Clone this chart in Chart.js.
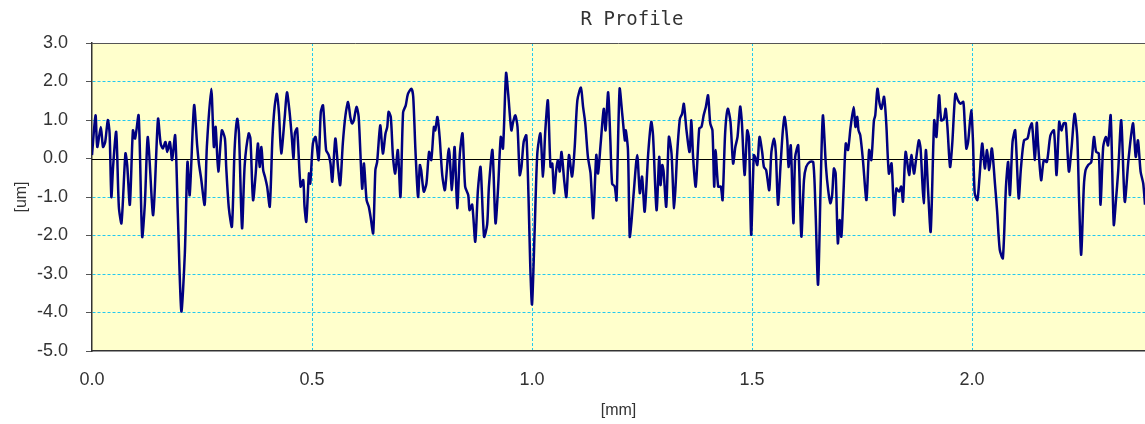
<!DOCTYPE html>
<html>
<head>
<meta charset="utf-8">
<script src="https://cdn.jsdelivr.net/npm/chart.js@4/dist/chart.umd.min.js"></script>
<style>
  html, body { margin: 0; padding: 0; background: #fff; }
  #wrap { width: 1145px; height: 424px; }
</style>
</head>
<body>
<div id="wrap"><canvas id="profile"></canvas></div>
<script>
// R profile, position along the trace [mm] and height [um]
const positionMm = [
  0.000, 0.008, 0.012, 0.020, 0.025, 0.030, 0.036, 0.040, 0.044, 0.048,
  0.055, 0.061, 0.067, 0.076, 0.080, 0.086, 0.093, 0.098, 0.106, 0.114,
  0.120, 0.127, 0.139, 0.150, 0.156, 0.161, 0.167, 0.171, 0.177, 0.182,
  0.189, 0.195, 0.203, 0.211, 0.217, 0.222, 0.232, 0.239, 0.243, 0.248,
  0.256, 0.261, 0.271, 0.277, 0.281, 0.287, 0.295, 0.302, 0.305, 0.311,
  0.318, 0.324, 0.330, 0.334, 0.341, 0.347, 0.356, 0.360, 0.366, 0.372,
  0.377, 0.381, 0.385, 0.389, 0.393, 0.398, 0.404, 0.410, 0.415, 0.420,
  0.425, 0.430, 0.438, 0.443, 0.449, 0.454, 0.458, 0.461, 0.466, 0.474,
  0.480, 0.483, 0.487, 0.493, 0.496, 0.502, 0.508, 0.515, 0.520, 0.525,
  0.532, 0.538, 0.542, 0.546, 0.553, 0.559, 0.564, 0.570, 0.576, 0.582,
  0.587, 0.591, 0.595, 0.601, 0.606, 0.614, 0.618, 0.624, 0.629, 0.633,
  0.639, 0.644, 0.648, 0.655, 0.661, 0.667, 0.671, 0.674, 0.679, 0.684,
  0.689, 0.695, 0.701, 0.707, 0.713, 0.718, 0.726, 0.730, 0.735, 0.741,
  0.745, 0.748, 0.754, 0.760, 0.766, 0.771, 0.777, 0.780, 0.785, 0.790,
  0.796, 0.802, 0.811, 0.818, 0.824, 0.830, 0.836, 0.842, 0.848, 0.855,
  0.858, 0.864, 0.871, 0.877, 0.883, 0.891, 0.898, 0.902, 0.910, 0.917,
  0.923, 0.929, 0.934, 0.941, 0.946, 0.953, 0.957, 0.962, 0.967, 0.972,
  0.976, 0.981, 0.987, 0.992, 0.996, 1.000, 1.006, 1.012, 1.019, 1.025,
  1.030, 1.036, 1.042, 1.046, 1.050, 1.055, 1.059, 1.063, 1.067, 1.073,
  1.078, 1.084, 1.091, 1.097, 1.103, 1.111, 1.116, 1.121, 1.127, 1.133,
  1.139, 1.146, 1.150, 1.156, 1.163, 1.167, 1.173, 1.178, 1.182, 1.188,
  1.192, 1.199, 1.205, 1.211, 1.213, 1.218, 1.222, 1.226, 1.231, 1.239,
  1.245, 1.250, 1.256, 1.264, 1.271, 1.275, 1.283, 1.289, 1.292, 1.296,
  1.299, 1.305, 1.311, 1.317, 1.323, 1.330, 1.336, 1.341, 1.345, 1.351,
  1.358, 1.362, 1.366, 1.372, 1.380, 1.385, 1.390, 1.395, 1.400, 1.405,
  1.410, 1.414, 1.417, 1.423, 1.429, 1.433, 1.439, 1.445, 1.451, 1.457,
  1.462, 1.467, 1.473, 1.477, 1.483, 1.489, 1.493, 1.498, 1.504, 1.507,
  1.512, 1.517, 1.523, 1.527, 1.532, 1.539, 1.544, 1.550, 1.554, 1.559,
  1.565, 1.570, 1.574, 1.580, 1.583, 1.588, 1.594, 1.598, 1.605, 1.612,
  1.618, 1.623, 1.631, 1.639, 1.644, 1.650, 1.656, 1.661, 1.668, 1.673,
  1.678, 1.682, 1.686, 1.690, 1.695, 1.699, 1.703, 1.708, 1.713, 1.718,
  1.724, 1.731, 1.735, 1.739, 1.742, 1.746, 1.752, 1.760, 1.766, 1.771,
  1.777, 1.780, 1.785, 1.790, 1.794, 1.800, 1.805, 1.811, 1.817, 1.823,
  1.828, 1.834, 1.839, 1.843, 1.849, 1.857, 1.862, 1.868, 1.872, 1.879,
  1.883, 1.890, 1.895, 1.900, 1.906, 1.914, 1.919, 1.925, 1.930, 1.936,
  1.940, 1.944, 1.950, 1.955, 1.962, 1.968, 1.974, 1.980, 1.983, 1.987,
  1.991, 1.998, 2.002, 2.006, 2.012, 2.017, 2.023, 2.029, 2.034, 2.039,
  2.045, 2.052, 2.057, 2.063, 2.070, 2.077, 2.082, 2.086, 2.092, 2.098,
  2.106, 2.111, 2.118, 2.126, 2.131, 2.136, 2.143, 2.147, 2.150, 2.157,
  2.163, 2.170, 2.178, 2.186, 2.192, 2.198, 2.203, 2.208, 2.213, 2.220,
  2.226, 2.233, 2.239, 2.243, 2.248, 2.254, 2.258, 2.264, 2.271, 2.277,
  2.282, 2.288, 2.292, 2.298, 2.304, 2.309, 2.315, 2.322, 2.327, 2.332,
  2.339, 2.347, 2.355, 2.361, 2.366, 2.372, 2.377, 2.383, 2.389, 2.393
];
const heightUm = [
  0.09, 1.12, 0.30, 0.82, 0.30, 0.43, 1.00, 0.65, -1.00, -0.20,
  0.69, -1.25, -1.68, 0.13, -0.17, -1.20, 0.73, 0.52, 1.12, -2.03,
  -1.20, 0.56, -1.47, 1.03, 0.39, 0.26, 0.43, 0.17, 0.43, -0.04,
  0.60, -1.42, -3.97, -2.46, -0.09, -0.95, 1.38, 0.34, -0.13, -0.52,
  -1.20, 0.30, 1.81, 0.30, 0.82, -0.34, 0.73, 0.52, -0.22, -1.29,
  -1.77, 0.22, 1.03, 0.65, -1.81, -0.17, 0.65, 0.52, -1.08, -0.39,
  0.39, -0.22, 0.30, -0.30, -0.47, -0.73, -1.25, 0.52, 1.34, 1.68,
  1.16, 0.13, 1.08, 1.72, 1.21, 0.56, 0.00, 0.65, 0.78, -0.73,
  -0.56, -1.25, -1.64, -0.39, -0.65, 0.39, 0.56, -0.04, 1.21, 1.38,
  0.22, 0.09, -0.13, -0.60, 0.52, -0.22, -0.69, 0.39, 1.12, 1.47,
  1.08, 0.91, 0.99, 1.34, 1.08, -0.78, -0.13, -1.08, -1.25, -1.51,
  -1.94, -0.30, -0.09, 0.86, 0.13, 0.65, 0.82, 1.21, 1.08, 0.04,
  -0.39, 0.22, -1.00, 1.20, 1.38, 1.68, 1.81, 1.60, 0.22, -1.00,
  -0.17, -0.30, -0.86, -0.65, 0.17, -0.04, 0.82, 0.73, 1.08, 0.56,
  -0.43, -0.82, 0.26, -0.82, 0.30, -1.29, 0.13, 0.65, -0.73, -0.95,
  -1.34, -1.20, -2.16, -0.82, -0.22, -2.03, -1.72, -0.73, 0.22, -1.68,
  -0.73, 0.56, 0.26, 2.22, 1.65, 0.73, 0.95, 1.12, 0.82, -0.43,
  -0.22, 0.43, 0.60, -1.00, -2.80, -3.79, -1.85, 0.13, 0.65, -0.47,
  0.69, 1.51, -0.22, -0.13, -0.90, -0.30, -0.04, -0.34, 0.17, -0.56,
  -1.00, 0.09, -0.47, 0.30, 1.51, 1.84, 1.34, 0.91, 0.04, -0.39,
  -1.55, 0.09, -0.39, 0.39, 1.29, 0.73, 1.72, 0.47, -0.65, -0.73,
  -1.08, 1.81, 1.16, 0.47, 0.73, 0.22, -2.03, -1.64, -0.90, 0.09,
  -0.90, -0.47, -1.38, 0.13, 0.95, 0.60, -1.34, 0.04, -0.69, -0.17,
  -0.34, -1.25, 0.56, 0.13, -1.29, 0.17, 1.03, 1.16, 1.42, 0.73,
  0.17, 0.99, 0.04, -0.73, 0.78, 0.82, 1.12, 1.34, 1.64, 0.91,
  0.73, -0.73, 0.22, -0.73, -0.73, -1.08, 0.69, 1.29, 0.95, -0.13,
  0.30, 0.56, 1.35, 0.91, -0.43, 0.73, 0.52, -1.98, 0.09, 0.04,
  -0.17, 0.56, 0.17, -0.22, -0.30, -0.82, 0.17, 0.52, 0.17, -1.20,
  -0.13, 0.73, 1.08, 0.47, -0.22, 0.34, -1.68, 0.04, 0.34, -2.03,
  -0.56, -0.22, -0.09, -0.09, -1.25, -3.28, -0.65, 1.12, -0.22, -0.82,
  -1.16, -0.95, -0.26, -0.39, -2.20, -1.60, -2.03, -0.82, 0.39, 0.22,
  0.82, 1.34, 0.82, 1.08, 0.73, 0.60, -0.04, -1.08, 0.22, -0.04,
  0.99, 1.12, 1.81, 1.42, 1.29, 1.60, 0.91, -0.39, -0.13, -1.47,
  -0.78, -0.86, -0.73, -1.12, 0.17, -0.43, 0.09, -0.39, -0.09, 0.47,
  0.26, -1.16, 0.22, -0.82, -1.90, 0.99, 0.56, 1.64, 0.99, 1.03,
  1.29, 0.82, -0.22, 0.39, 1.68, 1.51, 1.42, 1.47, 0.99, 0.26,
  0.43, 1.25, 0.47, -0.90, -1.08, -0.47, 0.39, -0.26, 0.22, -0.30,
  0.26, -0.65, -1.38, -2.37, -2.59, -0.73, -0.09, -0.95, 0.43, 0.73,
  -1.03, -0.26, 0.47, 0.52, 0.78, 0.91, -0.04, 0.93, 0.39, -0.56,
  -0.04, -0.09, 0.60, 0.73, -0.43, 0.95, 0.73, 0.91, 0.91, -0.34,
  0.26, 1.16, 0.56, -0.99, -2.50, -0.73, -0.30, -0.17, -0.09, 0.56,
  0.17, 0.13, -1.20, 0.30, 0.56, 0.34, 1.12, -1.72, -1.08, -0.34,
  0.99, -1.12, -0.09, 0.56, 0.91, 0.04, 0.47, -0.34, -0.65, -1.20
];
const xTicks = [0, 0.5, 1.0, 1.5, 2.0];
const yTicks = [-5, -4, -3, -2, -1, 0, 1, 2, 3];
const X_MAX = 2.393;
const TITLE = 'R Profile';

const GRID_CYAN = '#22c8f0';
const PLOT_BG = '#ffffcc';

const profilePoints = positionMm.map((x, i) => ({ x: x, y: heightUm[i] }));

// yellow plot area, zero line, top frame, title
const plotDecor = {
  id: 'plotDecor',
  beforeDraw(chart) {
    const { ctx, chartArea: a } = chart;
    ctx.save();
    ctx.fillStyle = PLOT_BG;
    ctx.fillRect(a.left, a.top, a.right - a.left, a.bottom - a.top);
    ctx.restore();
  },
  beforeDatasetsDraw(chart) {
    const { ctx, chartArea: a, scales } = chart;
    const y0 = Math.round(scales.y.getPixelForValue(0)) + 0.5;
    ctx.save();
    ctx.strokeStyle = '#000';
    ctx.lineWidth = 1;
    ctx.beginPath();
    ctx.moveTo(a.left, y0);
    ctx.lineTo(a.right, y0);
    ctx.stroke();
    const yt = Math.round(scales.y.getPixelForValue(3)) + 0.5;
    ctx.strokeStyle = '#555';
    ctx.beginPath();
    ctx.moveTo(a.left, yt);
    ctx.lineTo(a.right, yt);
    ctx.stroke();
    ctx.restore();
  },
  afterDraw(chart) {
    const { ctx } = chart;
    ctx.save();
    ctx.fillStyle = '#333';
    ctx.font = '19px "DejaVu Sans Mono"';
    ctx.textAlign = 'center';
    ctx.textBaseline = 'middle';
    ctx.fillText(TITLE, 632, 20);
    ctx.restore();
  }
};

const config = {
  type: 'line',
  data: {
    datasets: [{
      data: profilePoints,
      borderColor: '#000080',
      borderWidth: 2.5,
      pointRadius: 0,
      tension: 0.25,
      fill: false
    }]
  },
  options: {
    responsive: true,
    maintainAspectRatio: false,
    animation: false,
    layout: { padding: { top: 43, left: 0, right: 0, bottom: 0 } },
    plugins: {
      legend: { display: false },
      tooltip: { enabled: false }
    },
    scales: {
      x: {
        type: 'linear',
        min: 0,
        max: X_MAX,
        afterBuildTicks: scale => { scale.ticks = xTicks.map(v => ({ value: v })); },
        afterFit: scale => { scale.height = 73; },
        ticks: {
          color: '#333',
          font: { family: 'Liberation Sans', size: 18 },
          padding: 12,
          maxRotation: 0,
          callback: v => v.toFixed(1)
        },
        grid: {
          color: ctx => (ctx.tick && ctx.tick.value === 0 ? 'rgba(0,0,0,0)' : GRID_CYAN),
          lineWidth: 1,
          tickColor: 'rgba(0,0,0,0)',
          tickLength: 6
        },
        border: { display: true, color: '#333', width: 1.5, dash: [3, 2] },
        title: {
          display: true,
          text: '[mm]',
          color: '#333',
          font: { family: 'Liberation Sans', size: 16 },
          padding: { top: 0, bottom: 4 }
        }
      },
      y: {
        min: -5,
        max: 3,
        afterBuildTicks: scale => { scale.ticks = yTicks.map(v => ({ value: v })); },
        afterFit: scale => { scale.width = 92; },
        ticks: {
          color: '#333',
          font: { family: 'Liberation Sans', size: 18 },
          padding: 18,
          callback: v => v.toFixed(1)
        },
        grid: {
          color: ctx => {
            const v = ctx.tick ? ctx.tick.value : null;
            return (v === 0 || v === 3 || v === -5) ? 'rgba(0,0,0,0)' : GRID_CYAN;
          },
          lineWidth: 1,
          tickColor: '#555',
          tickBorderDash: [],
          tickLength: 6
        },
        border: { display: true, color: '#333', width: 1.5, dash: [3, 2] },
        title: {
          display: true,
          text: '[um]',
          color: '#333',
          font: { family: 'Liberation Sans', size: 16 },
          padding: { top: 12, bottom: 0 }
        }
      }
    }
  },
  plugins: [plotDecor]
};

const profileChart = new Chart(document.getElementById('profile'), config);
</script>
</body>
</html>
